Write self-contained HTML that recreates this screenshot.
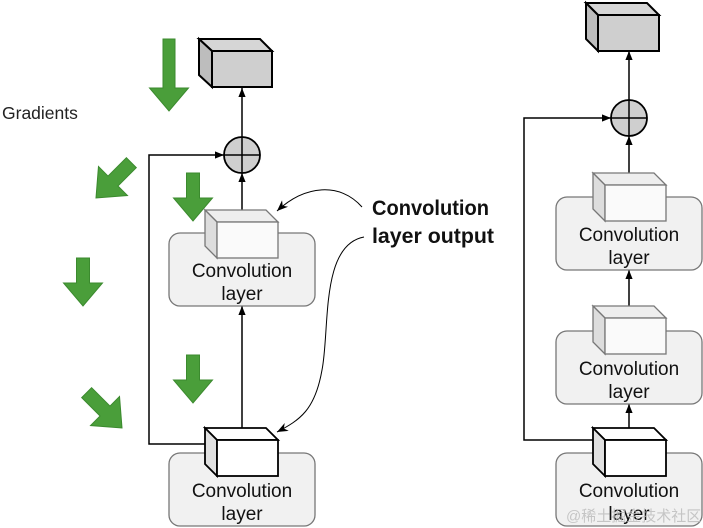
<!DOCTYPE html>
<html><head><meta charset="utf-8"><style>
html,body{margin:0;padding:0;background:#fff;width:703px;height:528px;overflow:hidden}
text{font-family:"Liberation Sans",Arial,sans-serif}
</style></head><body>
<svg width="703" height="528" viewBox="0 0 703 528" xmlns="http://www.w3.org/2000/svg">
<defs>
<marker id="ah" viewBox="0 0 10 10" refX="10" refY="5" markerWidth="9" markerHeight="9" markerUnits="userSpaceOnUse" orient="auto"><path d="M0,1 L10,5 L0,9 z" fill="#000"/></marker>
<marker id="ah2" viewBox="0 0 10 10" refX="10" refY="5" markerWidth="11" markerHeight="11" markerUnits="userSpaceOnUse" orient="auto"><path d="M0,1 L10,5 L0,9 L3,5 z" fill="#000"/></marker>
<path id="ga" d="M-6.5,-48 L6.5,-48 L6.5,-23 L19.5,-23 L0,0 L-19.5,-23 L-6.5,-23 z" fill="#4a9e3a" stroke="#3b8a2e" stroke-width="1"/>
<path id="gd" d="M-7,-50 L7,-50 L7,-24 L20.5,-24 L0,0 L-20.5,-24 L-7,-24 z" fill="#4a9e3a" stroke="#3b8a2e" stroke-width="1"/>
<path id="gl" d="M-6,-72 L6,-72 L6,-23 L19.5,-23 L0,0 L-19.5,-23 L-6,-23 z" fill="#4a9e3a" stroke="#3b8a2e" stroke-width="1"/>
</defs>

<use href="#gl" x="169" y="111"/>
<use href="#ga" x="193" y="221"/>
<use href="#ga" x="193" y="403"/>
<use href="#ga" x="83" y="306"/>
<use href="#gd" transform="translate(96,198) rotate(45)"/>
<use href="#gd" transform="translate(122,428) rotate(-45)"/>

<text x="2" y="119" font-size="17.5" fill="#222">Gradients</text>

<g stroke="#000" stroke-width="1.5" fill="none">
<line x1="242" y1="137" x2="242" y2="88" marker-end="url(#ah)"/>
<line x1="242" y1="210" x2="242" y2="173" marker-end="url(#ah)"/>
<line x1="242" y1="428" x2="242" y2="306" marker-end="url(#ah)"/>
<polyline points="205,444 149,444 149,155 224,155" marker-end="url(#ah)"/>
</g>
<g stroke="#000" stroke-width="2">
<path d="M199,39 L260,39 L272,51 L212,51 z" fill="#d6d6d6"/>
<path d="M199,39 L212,51 L212,87 L199,75 z" fill="#bdbdbd"/>
<rect x="212" y="51" width="60" height="36" fill="#cfcfcf"/>
</g>
<circle cx="242" cy="155" r="18" fill="#cfcfcf" stroke="#000" stroke-width="1.8"/>
<line x1="224" y1="155" x2="260" y2="155" stroke="#000" stroke-width="1.5"/>
<line x1="242" y1="137" x2="242" y2="173" stroke="#000" stroke-width="1.5"/>

<rect x="169" y="233" width="146" height="73" rx="11" fill="#f1f1f1" stroke="#777" stroke-width="1.3"/>
<g stroke="#777" stroke-width="1.3">
<path d="M205,210 L266,210 L278,222 L217,222 z" fill="#eee"/>
<path d="M205,210 L217,222 L217,258 L205,246 z" fill="#ddd"/>
<rect x="217" y="222" width="61" height="36" fill="#fafafa"/>
</g>
<text x="242" y="277" font-size="19" text-anchor="middle" fill="#111">Convolution</text>
<text x="242" y="300" font-size="19" text-anchor="middle" fill="#111">layer</text>

<rect x="169" y="453" width="146" height="73" rx="11" fill="#f1f1f1" stroke="#777" stroke-width="1.3"/>
<g stroke="#000" stroke-width="1.8">
<path d="M205,428 L266,428 L278,440 L217,440 z" fill="#fff"/>
<path d="M205,428 L217,440 L217,476 L205,464 z" fill="#e0e0e0"/>
<rect x="217" y="440" width="61" height="36" fill="#fff"/>
</g>
<text x="242" y="497" font-size="19" text-anchor="middle" fill="#111">Convolution</text>
<text x="242" y="520" font-size="19" text-anchor="middle" fill="#111">layer</text>

<text x="372" y="215" font-size="21" font-weight="bold" fill="#111" textLength="117" lengthAdjust="spacingAndGlyphs">Convolution</text>
<text x="372" y="243" font-size="21" font-weight="bold" fill="#111" textLength="122" lengthAdjust="spacingAndGlyphs">layer output</text>
<path d="M362,207 C340,182 305,185 277,211" stroke="#000" stroke-width="1" fill="none" marker-end="url(#ah2)"/>
<path d="M364,237 C320,245 330,330 322,370 C315,410 300,420 277,432" stroke="#000" stroke-width="1" fill="none" marker-end="url(#ah2)"/>

<g stroke="#000" stroke-width="1.5" fill="none">
<line x1="629" y1="100" x2="629" y2="51" marker-end="url(#ah)"/>
<line x1="629" y1="173" x2="629" y2="136" marker-end="url(#ah)"/>
<line x1="629" y1="306" x2="629" y2="270" marker-end="url(#ah)"/>
<line x1="629" y1="428" x2="629" y2="404" marker-end="url(#ah)"/>
<polyline points="593,440 524,440 524,118 611,118" marker-end="url(#ah)"/>
</g>
<g stroke="#000" stroke-width="2">
<path d="M586,3 L647,3 L659,15 L598,15 z" fill="#d6d6d6"/>
<path d="M586,3 L598,15 L598,51 L586,39 z" fill="#bdbdbd"/>
<rect x="598" y="15" width="61" height="36" fill="#cfcfcf"/>
</g>
<circle cx="629" cy="118" r="18" fill="#cfcfcf" stroke="#000" stroke-width="1.8"/>
<line x1="611" y1="118" x2="647" y2="118" stroke="#000" stroke-width="1.5"/>
<line x1="629" y1="100" x2="629" y2="136" stroke="#000" stroke-width="1.5"/>

<rect x="556" y="197" width="146" height="73" rx="11" fill="#f1f1f1" stroke="#777" stroke-width="1.3"/>
<g stroke="#777" stroke-width="1.3">
<path d="M593,173 L654,173 L666,185 L605,185 z" fill="#eee"/>
<path d="M593,173 L605,185 L605,221 L593,209 z" fill="#ddd"/>
<rect x="605" y="185" width="61" height="36" fill="#fafafa"/>
</g>
<text x="629" y="241" font-size="19" text-anchor="middle" fill="#111">Convolution</text>
<text x="629" y="264" font-size="19" text-anchor="middle" fill="#111">layer</text>

<rect x="556" y="331" width="146" height="73" rx="11" fill="#f1f1f1" stroke="#777" stroke-width="1.3"/>
<g stroke="#777" stroke-width="1.3">
<path d="M593,306 L654,306 L666,318 L605,318 z" fill="#eee"/>
<path d="M593,306 L605,318 L605,354 L593,342 z" fill="#ddd"/>
<rect x="605" y="318" width="61" height="36" fill="#fafafa"/>
</g>
<text x="629" y="375" font-size="19" text-anchor="middle" fill="#111">Convolution</text>
<text x="629" y="398" font-size="19" text-anchor="middle" fill="#111">layer</text>

<rect x="556" y="453" width="146" height="73" rx="11" fill="#f1f1f1" stroke="#777" stroke-width="1.3"/>
<g stroke="#000" stroke-width="1.8">
<path d="M593,428 L654,428 L666,440 L605,440 z" fill="#fff"/>
<path d="M593,428 L605,440 L605,476 L593,464 z" fill="#e0e0e0"/>
<rect x="605" y="440" width="61" height="36" fill="#fff"/>
</g>
<text x="629" y="497" font-size="19" text-anchor="middle" fill="#111">Convolution</text>
<text x="629" y="520" font-size="19" text-anchor="middle" fill="#111">layer</text>
<text x="566" y="521" font-size="15" fill="#bbb" opacity="0.8" style="font-family:'Liberation Sans','Noto Sans CJK SC',sans-serif">@稀土掘金技术社区</text>
</svg>
</body></html>
